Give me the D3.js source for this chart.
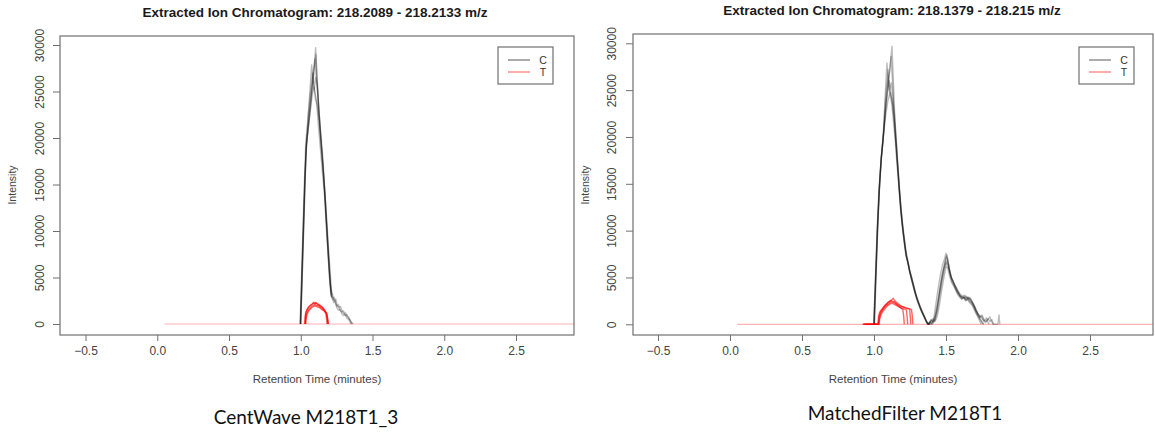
<!DOCTYPE html>
<html><head><meta charset="utf-8">
<script src="https://cdn.jsdelivr.net/npm/d3@7"></script>
<style>body{margin:0;background:#fff}svg{display:block}</style>
</head><body>
<svg id="chart" width="1155" height="432"></svg>
<script>
// ---------- data ----------
const xTicks = [-0.5, 0.0, 0.5, 1.0, 1.5, 2.0, 2.5];
const yTicks = [0, 5000, 10000, 15000, 20000, 25000, 30000];
const groups = ["C", "T"];
const titles = ["Extracted Ion Chromatogram: 218.2089 - 218.2133 m/z",
                "Extracted Ion Chromatogram: 218.1379 - 218.215 m/z"];
const subtitles = ["CentWave M218T1_3", "MatchedFilter M218T1"];
const xLabel = "Retention Time (minutes)";
const yLabel = "Intensity";

// CentWave panel, group C
const cwC1 = [[0.995,0],[1.005,5000],[1.015,10000],[1.025,15000],[1.035,19500],[1.050,22000],[1.065,24500],[1.080,26500],[1.095,28000],[1.104,29700],[1.112,27000],[1.125,23500],[1.140,20000],[1.155,17000],[1.170,13500],[1.182,10000],[1.192,7200],[1.202,4800],[1.212,3200],[1.222,2600],[1.232,2900],[1.242,2200],[1.252,1900],[1.262,2100],[1.272,1500],[1.285,1300],[1.298,1400],[1.310,900],[1.322,1000],[1.334,600],[1.346,400],[1.358,100],[1.366,0]];
const cwC2 = [[0.998,0],[1.008,5500],[1.018,10500],[1.028,15500],[1.038,19000],[1.052,22500],[1.066,25500],[1.076,27850],[1.086,26000],[1.098,25000],[1.110,24000],[1.122,21500],[1.136,19000],[1.150,16500],[1.165,14000],[1.178,10500],[1.190,7500],[1.200,5000],[1.210,3100],[1.214,2900]];
const cwC3 = [[1.000,0],[1.010,5000],[1.020,10200],[1.030,15200],[1.040,19200],[1.055,21800],[1.070,24200],[1.085,26000],[1.098,28500],[1.108,26500],[1.120,24500],[1.135,21000],[1.150,18000],[1.165,14800],[1.180,11500],[1.192,8500],[1.204,5800],[1.214,3600],[1.224,3000],[1.234,2500],[1.244,2700],[1.254,2000],[1.264,1800],[1.276,1900],[1.288,1400],[1.300,1100],[1.312,1200],[1.324,800],[1.336,700],[1.346,300],[1.356,0]];
const cwC4 = [[0.997,0],[1.007,4800],[1.017,9800],[1.027,14800],[1.037,18800],[1.052,21000],[1.068,23200],[1.082,24800],[1.092,25500],[1.102,24200],[1.115,23500],[1.128,21800],[1.142,19200],[1.158,16000],[1.172,12500],[1.185,9200],[1.196,6500],[1.206,4200],[1.214,3000],[1.218,2800]];
const cwC5 = [[0.999,0],[1.009,5300],[1.019,10300],[1.029,15300],[1.039,19400],[1.054,21200],[1.070,23500],[1.085,27000],[1.094,25200],[1.104,26500],[1.114,25800],[1.126,22600],[1.140,19800],[1.155,16800],[1.168,14200],[1.180,11000],[1.191,8000],[1.202,5400],[1.211,3400],[1.220,2900],[1.230,2300],[1.240,2500],[1.250,1800],[1.262,1500],[1.274,1600],[1.286,1100],[1.298,900],[1.310,1000],[1.322,600],[1.334,500],[1.344,200],[1.352,0]];
const cwC6 = [[1.000,0],[1.012,6000],[1.024,12000],[1.034,17500],[1.044,20000],[1.060,22800],[1.075,25000],[1.090,26800],[1.106,29000],[1.114,26200],[1.126,23000],[1.140,20500],[1.156,17500],[1.172,13000],[1.184,9800],[1.195,7000],[1.205,4500],[1.215,3300],[1.220,3100]];
// CentWave panel, group T
const cwT1 = [[1.028,0],[1.030,700],[1.034,1200],[1.042,1500],[1.052,1750],[1.062,1900],[1.072,2050],[1.082,2150],[1.092,2350],[1.100,2200],[1.110,2250],[1.120,2150],[1.130,2050],[1.140,1950],[1.150,1800],[1.160,1600],[1.168,1400],[1.175,1100],[1.180,500],[1.183,0]];
const cwT2 = [[1.032,0],[1.035,600],[1.040,1100],[1.050,1400],[1.060,1650],[1.070,1800],[1.080,1950],[1.090,2000],[1.100,2100],[1.110,1950],[1.120,2000],[1.130,1900],[1.140,1750],[1.150,1650],[1.160,1500],[1.170,1350],[1.178,1200],[1.185,700],[1.190,0]];
const cwT3 = [[1.030,0],[1.033,900],[1.038,1300],[1.046,1600],[1.056,1850],[1.066,2000],[1.076,2100],[1.086,2250],[1.096,2150],[1.106,2300],[1.116,2100],[1.126,2050],[1.136,1900],[1.146,1850],[1.156,1700],[1.166,1500],[1.174,1300],[1.182,1000],[1.187,400],[1.190,0]];
const cwT4 = [[1.034,0],[1.037,500],[1.043,1000],[1.053,1350],[1.063,1550],[1.073,1700],[1.083,1850],[1.093,1900],[1.103,1950],[1.113,1850],[1.123,1800],[1.133,1750],[1.143,1600],[1.153,1500],[1.163,1400],[1.173,1250],[1.181,1100],[1.188,600],[1.192,0]];
const cwBaseline = [[0.05,0],[2.95,0]];

// MatchedFilter panel, group C
const mfC1 = [[1.000,0],[1.012,5200],[1.024,10200],[1.036,14000],[1.050,17500],[1.063,19800],[1.080,23000],[1.095,25800],[1.110,27200],[1.125,29700],[1.133,26500],[1.142,23000],[1.152,20000],[1.163,17200],[1.175,14500],[1.188,12000],[1.200,10200],[1.212,8800],[1.224,7400],[1.236,6500],[1.248,5600],[1.260,4800],[1.272,4100],[1.285,3300],[1.298,2600],[1.312,2000],[1.326,1500],[1.340,1100],[1.352,700],[1.364,300],[1.375,0],[1.390,300],[1.402,100],[1.415,600],[1.430,2200],[1.445,3800],[1.460,5200],[1.475,6300],[1.490,7000],[1.500,7600],[1.510,7000],[1.522,6000],[1.535,5000],[1.548,4700],[1.560,4200],[1.572,3800],[1.585,3400],[1.598,3100],[1.612,2900],[1.626,2800],[1.640,3000],[1.654,2700],[1.668,2800],[1.682,2400],[1.696,1900],[1.708,1300],[1.720,800],[1.732,400],[1.745,0]];
const mfC2 = [[1.004,0],[1.016,5800],[1.028,11000],[1.040,15200],[1.052,18200],[1.065,20500],[1.078,24500],[1.090,27900],[1.100,25500],[1.112,24500],[1.124,23500],[1.136,21500],[1.148,19500],[1.160,17000],[1.172,14800],[1.184,12300],[1.196,10500],[1.208,9000],[1.220,7600],[1.232,6800],[1.244,6000],[1.256,5000],[1.268,4300],[1.280,3600],[1.294,2900],[1.308,2300],[1.322,1700],[1.336,1200],[1.350,800],[1.362,400],[1.372,100],[1.384,0],[1.398,400],[1.412,200],[1.426,800],[1.440,1900],[1.455,3400],[1.470,4800],[1.485,5900],[1.500,6600],[1.512,6300],[1.525,5600],[1.540,4900],[1.555,4400],[1.570,4000],[1.585,3500],[1.600,3200],[1.615,3000],[1.630,3100],[1.645,2800],[1.660,2900],[1.675,2600],[1.690,2200],[1.705,1700],[1.720,1200],[1.735,900],[1.750,600],[1.765,300],[1.780,700],[1.792,200],[1.800,0]];
const mfC3 = [[0.998,0],[1.010,4800],[1.022,9800],[1.034,13800],[1.048,17300],[1.062,19500],[1.078,22600],[1.094,25200],[1.108,26800],[1.118,28600],[1.128,26200],[1.138,22800],[1.150,19800],[1.162,17400],[1.174,14900],[1.186,12600],[1.198,10800],[1.210,9300],[1.222,7800],[1.234,6900],[1.246,5900],[1.258,5100],[1.270,4400],[1.282,3600],[1.296,2800],[1.310,2200],[1.324,1600],[1.338,1100],[1.350,700],[1.362,300],[1.372,0],[1.388,200],[1.404,0],[1.420,400],[1.436,1400],[1.452,3000],[1.468,4600],[1.484,6000],[1.498,7000],[1.506,7400],[1.516,6600],[1.528,5600],[1.542,4800],[1.556,4300],[1.570,3900],[1.584,3500],[1.598,3000],[1.612,2800],[1.626,2900],[1.640,2600],[1.654,2800],[1.668,2500],[1.682,2300],[1.696,2000],[1.710,1500],[1.724,1000],[1.738,500],[1.750,200],[1.762,0]];
const mfC4 = [[1.002,0],[1.014,5500],[1.026,10800],[1.038,14800],[1.052,17900],[1.066,20200],[1.082,23200],[1.096,25000],[1.105,26000],[1.115,24800],[1.126,23800],[1.138,22000],[1.150,19700],[1.162,17200],[1.174,14600],[1.186,12200],[1.198,10300],[1.210,8700],[1.222,7300],[1.234,6700],[1.246,5700],[1.258,5300],[1.270,4500],[1.282,3800],[1.295,3000],[1.308,2400],[1.322,1800],[1.336,1300],[1.348,900],[1.360,500],[1.370,200],[1.380,0],[1.395,500],[1.410,300],[1.425,500],[1.442,1600],[1.458,3200],[1.474,4700],[1.490,5900],[1.504,6800],[1.514,6400],[1.526,5400],[1.540,4600],[1.554,4200],[1.568,3700],[1.582,3300],[1.596,3000],[1.610,2700],[1.624,2900],[1.638,2600],[1.652,2700],[1.666,2400],[1.680,2200],[1.694,1800],[1.708,1400],[1.722,1100],[1.736,800],[1.750,1000],[1.764,500],[1.778,300],[1.792,600],[1.806,300],[1.818,500],[1.830,0]];
const mfC5 = [[1.000,0],[1.012,5000],[1.024,10000],[1.036,14200],[1.050,17700],[1.064,19900],[1.080,22200],[1.096,23800],[1.112,24800],[1.122,24200],[1.132,23200],[1.144,21400],[1.156,19000],[1.168,16300],[1.180,13600],[1.192,11400],[1.204,9700],[1.216,8300],[1.228,7000],[1.240,6300],[1.252,5400],[1.264,4700],[1.276,4000],[1.288,3300],[1.302,2700],[1.316,2100],[1.330,1600],[1.344,1100],[1.356,600],[1.368,200],[1.378,0],[1.392,300],[1.408,600],[1.424,300],[1.440,900],[1.456,2200],[1.472,3800],[1.488,5200],[1.502,6200],[1.512,6000],[1.524,5200],[1.538,4500],[1.552,4100],[1.566,3700],[1.580,3200],[1.594,2900],[1.608,2700],[1.622,2800],[1.636,2500],[1.650,2600],[1.664,2300],[1.678,2100],[1.692,1700],[1.706,1200],[1.720,900],[1.734,600],[1.748,300],[1.760,0]];
const mfC6 = [[0.999,0],[1.011,5400],[1.023,10600],[1.035,14600],[1.049,17600],[1.063,19700],[1.079,23800],[1.098,27200],[1.108,25000],[1.120,25800],[1.130,24400],[1.142,22400],[1.154,19900],[1.166,17000],[1.178,14300],[1.190,12000],[1.202,10000],[1.214,8500],[1.226,7200],[1.238,6500],[1.250,5500],[1.262,4900],[1.274,4200],[1.287,3400],[1.300,2700],[1.314,2100],[1.328,1500],[1.342,1000],[1.354,600],[1.366,200],[1.376,0],[1.394,0],[1.410,400],[1.426,1000],[1.442,2400],[1.458,4000],[1.474,5400],[1.490,6400],[1.502,7200],[1.512,6800],[1.524,5800],[1.538,4900],[1.552,4400],[1.566,3900],[1.580,3400],[1.594,3100],[1.608,2900],[1.622,3000],[1.636,2700],[1.650,2900],[1.664,2700],[1.678,2400],[1.692,2000],[1.706,1500],[1.720,1100],[1.734,700],[1.748,900],[1.762,400],[1.776,200],[1.790,500],[1.804,800],[1.816,300],[1.828,0],[1.860,0],[1.868,1000],[1.874,0]];
// MatchedFilter panel, group T
const mfT1 = [[0.920,0],[1.027,0],[1.032,900],[1.040,1300],[1.050,1500],[1.060,1650],[1.072,1900],[1.085,2150],[1.098,2350],[1.110,2450],[1.122,2600],[1.133,2780],[1.144,2500],[1.156,2350],[1.168,2200],[1.180,2050],[1.192,1950],[1.204,1850],[1.216,1750],[1.228,1700],[1.240,1650],[1.248,1600],[1.252,800],[1.256,0]];
const mfT2 = [[0.930,0],[1.032,0],[1.037,700],[1.045,1100],[1.055,1400],[1.067,1700],[1.080,1950],[1.093,2100],[1.106,2250],[1.118,2400],[1.130,2350],[1.142,2300],[1.154,2150],[1.166,2000],[1.178,1850],[1.190,1700],[1.200,1600],[1.206,900],[1.210,0]];
const mfT3 = [[0.940,0],[1.030,0],[1.035,800],[1.043,1250],[1.053,1550],[1.064,1800],[1.077,2050],[1.090,2200],[1.103,2400],[1.116,2550],[1.128,2450],[1.140,2400],[1.152,2250],[1.164,2100],[1.176,2000],[1.188,1900],[1.200,1850],[1.212,1800],[1.224,1750],[1.236,1700],[1.248,1650],[1.260,1600],[1.266,900],[1.270,0]];
const mfT4 = [[0.925,0],[1.035,0],[1.040,600],[1.048,1000],[1.058,1300],[1.070,1550],[1.083,1800],[1.096,2000],[1.109,2150],[1.121,2250],[1.133,2200],[1.145,2100],[1.157,2000],[1.169,1900],[1.181,1800],[1.193,1700],[1.205,1650],[1.217,1600],[1.225,1550],[1.230,800],[1.234,0]];
const mfBaseline = [[0.05,0],[2.95,0]];

// ---------- layout ----------
const colors = {C: "rgba(0,0,0,0.26)", T: "rgba(255,0,0,0.6)"};
const legendColors = {C: "rgba(0,0,0,0.5)", T: "rgba(255,0,0,0.5)"};
const panels = [
  {box: [60, 36, 574, 335], xr: [85.5, 516], yr: [324, 45], titleX: 315, titleY: 17,
   yLabX: 13, tickLabX: 40, axisTitleX: 317, subX: 306, subY: 424, legend: [498, 47, 553, 84],
   C: [cwC1, cwC2, cwC3, cwC4, cwC5, cwC6], T: [cwT1, cwT2, cwT3, cwT4], base: cwBaseline,
   title: titles[0], sub: subtitles[0]},
  {box: [633, 34, 1153, 335], xr: [658, 1090], yr: [324.3, 43.3], titleX: 892, titleY: 15,
   yLabX: 586, tickLabX: 612, axisTitleX: 893, subX: 905, subY: 420, legend: [1079, 47, 1134, 84],
   C: [mfC1, mfC2, mfC3, mfC4, mfC5, mfC6], T: [mfT1, mfT2, mfT3, mfT4], base: mfBaseline,
   title: titles[1], sub: subtitles[1]}
];

const svg = d3.select("#chart");
const RF = "'Liberation Sans', Arial, Helvetica, sans-serif";

panels.forEach((p, i) => {
  const [x0, y0, x1, y1] = p.box;
  const x = d3.scaleLinear().domain([-0.5, 2.5]).range(p.xr);
  const y = d3.scaleLinear().domain([0, 30000]).range(p.yr);
  const g = svg.append("g");

  const clipId = "clip" + i;
  svg.append("defs").append("clipPath").attr("id", clipId)
    .append("rect").attr("x", x0).attr("y", y0).attr("width", x1 - x0).attr("height", y1 - y0);

  const line = d3.line().x(d => x(d[0])).y(d => y(d[1]));
  const plot = g.append("g").attr("clip-path", `url(#${clipId})`);

  plot.append("path").datum(p.base).attr("d", line)
    .attr("fill", "none").attr("stroke", "rgba(255,0,0,0.3)").attr("stroke-width", 1.2);
  plot.selectAll("path.c").data(p.C).join("path").attr("class", "c")
    .attr("d", line).attr("fill", "none").attr("stroke", colors.C)
    .attr("stroke-width", 1.4).attr("stroke-linejoin", "round");
  plot.selectAll("path.t").data(p.T).join("path").attr("class", "t")
    .attr("d", line).attr("fill", "none").attr("stroke", colors.T)
    .attr("stroke-width", 1.4).attr("stroke-linejoin", "round");

  // box
  g.append("rect").attr("x", x0).attr("y", y0).attr("width", x1 - x0).attr("height", y1 - y0)
    .attr("fill", "none").attr("stroke", "#707070").attr("stroke-width", 1.2);

  // x axis
  const xa = g.append("g").attr("transform", `translate(0,${y1})`)
    .call(d3.axisBottom(x).tickValues(xTicks).tickFormat(d3.format(".1f")).tickSize(6).tickSizeOuter(0));
  xa.select(".domain").remove();
  xa.selectAll(".tick line").attr("stroke", "#707070");
  xa.selectAll(".tick text").attr("font-family", RF).attr("font-size", 12).attr("fill", "#444").attr("dy", "0.95em");

  // y axis
  const ya = g.append("g").attr("transform", `translate(${x0},0)`)
    .call(d3.axisLeft(y).tickValues(yTicks).tickFormat(d3.format("d")).tickSize(7).tickSizeOuter(0));
  ya.select(".domain").remove();
  ya.selectAll(".tick line").attr("stroke", "#707070");
  ya.selectAll(".tick text").attr("font-family", RF).attr("font-size", 12).attr("fill", "#444")
    .attr("text-anchor", "middle").attr("dy", "0.35em").attr("x", 0)
    .attr("transform", `translate(${p.tickLabX - x0},0) rotate(-90)`);

  // titles
  g.append("text").attr("x", p.titleX).attr("y", p.titleY).attr("text-anchor", "middle")
    .attr("font-family", RF).attr("font-weight", "bold").attr("font-size", 13.5).attr("fill", "#1a1a1a")
    .text(p.title);
  g.append("text").attr("x", p.axisTitleX).attr("y", 383).attr("text-anchor", "middle")
    .attr("font-family", RF).attr("font-size", 11.5).attr("fill", "#444").text(xLabel);
  g.append("text").attr("transform", `translate(${p.yLabX + 3},185) rotate(-90)`).attr("text-anchor", "middle")
    .attr("font-family", RF).attr("font-size", 10.5).attr("fill", "#444").text(yLabel);
  g.append("text").attr("x", p.subX).attr("y", p.subY).attr("text-anchor", "middle")
    .attr("font-family", "Lato, 'Open Sans', sans-serif").attr("font-size", 19).attr("fill", "#111")
    .text(p.sub);

  // legend
  const [lx0, ly0, lx1, ly1] = p.legend;
  g.append("rect").attr("x", lx0).attr("y", ly0).attr("width", lx1 - lx0).attr("height", ly1 - ly0)
    .attr("fill", "#fff").attr("stroke", "#707070").attr("stroke-width", 1.2);
  groups.forEach((k, j) => {
    const ly = ly0 + 13 + j * 12;
    g.append("line").attr("x1", lx0 + 10).attr("x2", lx0 + 32).attr("y1", ly).attr("y2", ly)
      .attr("stroke", legendColors[k]).attr("stroke-width", 1.3);
    g.append("text").attr("x", lx0 + 45).attr("y", ly).attr("dy", "0.35em").attr("text-anchor", "middle")
      .attr("font-family", RF).attr("font-size", 10.5).attr("fill", "#333").text(k);
  });
});
</script>
</body></html>
